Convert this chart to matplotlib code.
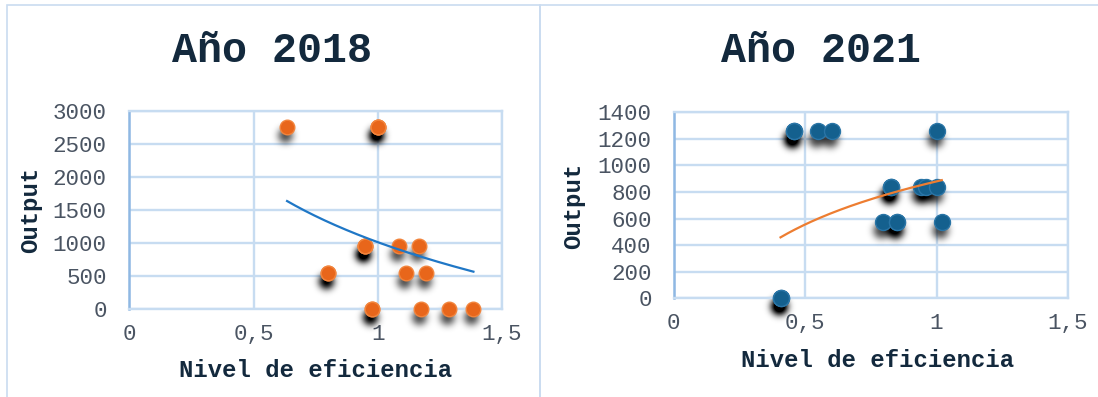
import numpy as np
import matplotlib
matplotlib.use("Agg")
import matplotlib.pyplot as plt
from matplotlib.patches import Rectangle

# ---- data -----------------------------------------------------------------
eff_2018 = [0.635, 1.0, 1.0, 1.0, 0.95, 0.95, 0.95, 1.086, 1.164,
            0.798, 0.798, 1.115, 1.195, 0.976, 0.976, 1.175, 1.286, 1.385]
out_2018 = [2750, 2750, 2750, 2750, 950, 950, 950, 950, 950,
            540, 540, 540, 540, 0, 0, 0, 0, 0]

eff_2021 = [0.46, 0.46, 0.46, 0.548, 0.601, 1.0,
            0.827, 0.827, 0.827, 0.94, 0.96, 1.001,
            0.797, 0.85, 0.85, 1.02, 0.407, 0.407, 0.407]
out_2021 = [1260, 1260, 1260, 1260, 1260, 1260,
            835, 835, 835, 835, 835, 835,
            572, 572, 572, 572, 0, 0, 0]

# logarithmic trend lines: y = a + b * ln(x)
trend_2018 = (1011, -1370)
trend_2021 = (880, 468.6)

titles = ["Año 2018", "Año 2021"]
x_label = "Nivel de eficiencia"
y_label = "Output"

# ---- styling --------------------------------------------------------------
MONO = ["Liberation Mono", "DejaVu Sans Mono"]
NAVY = "#13293d"
TICK = "#4a5462"
GRID = "#c7dcf1"
SPINE = "#8fb8e3"
ORANGE, ORANGE_EDGE = "#e8661b", "#f2843c"
BLUE, BLUE_EDGE = "#14608e", "#2a75a6"


class DropShadow:
    """agg filter: blurred black copy of the artist, shifted in pixels."""

    def __init__(self, sigma, dx, dy, strength=1.0):
        self.sigma, self.dx, self.dy, self.strength = sigma, dx, dy, strength

    def __call__(self, im, dpi):
        pad = int(3 * self.sigma) + max(abs(self.dx), abs(self.dy)) + 2
        a = np.pad(im[..., 3], pad)
        a = np.roll(a, self.dx, axis=1)
        a = np.roll(a, self.dy, axis=0)
        r = int(3 * self.sigma) + 1
        k = np.exp(-0.5 * (np.arange(-r, r + 1) / self.sigma) ** 2)
        k /= k.sum()
        a = np.apply_along_axis(lambda v: np.convolve(v, k, mode="same"), 0, a)
        a = np.apply_along_axis(lambda v: np.convolve(v, k, mode="same"), 1, a)
        out = np.zeros(a.shape + (4,), dtype=float)
        out[..., 3] = np.clip(a * self.strength, 0, 1)
        return out, -pad, -pad


W, H, DPI = 1098, 397, 100
fig = plt.figure(figsize=(W / DPI, H / DPI), dpi=DPI)
fig.patch.set_facecolor("white")


def px_rect(x0, y0, x1, y1):
    return [x0 / W, 1 - y1 / H, (x1 - x0) / W, (y1 - y0) / H]


# panel frames
for x0, x1 in [(7, 540), (540, 1110)]:
    fig.add_artist(Rectangle((x0 / W, -0.05), (x1 - x0) / W, 1 - 5 / H + 0.05,
                             transform=fig.transFigure, fill=False,
                             edgecolor="#cadcf0", linewidth=1.2))

panels = [
    dict(rect=px_rect(129.3, 110.7, 502.0, 309.0), eff=eff_2018, out=out_2018,
         trend=trend_2018, ymax=3000, ystep=500, color=ORANGE, edge=ORANGE_EDGE,
         tcolor="#1f77c6", msize=10.5, title_xy=(272, 61.7),
         xlab=(0.5, -0.311), ylab=(-0.266, 0.5), ypad=16.3),
    dict(rect=px_rect(673.5, 112.3, 1068.0, 298.3), eff=eff_2021, out=out_2021,
         trend=trend_2021, ymax=1400, ystep=200, color=BLUE, edge=BLUE_EDGE,
         tcolor="#ed7d31", msize=11.5, title_xy=(821, 61.7),
         xlab=(0.5176, -0.332), ylab=(-0.252, 0.498), ypad=15.6),
]

for p, title in zip(panels, titles):
    ax = fig.add_axes(p["rect"])
    ax.set_xlim(0, 1.5)
    ax.set_ylim(0, p["ymax"])
    ax.set_xticks([0, 0.5, 1, 1.5])
    ax.set_xticklabels(["0", "0,5", "1", "1,5"])
    yt = np.arange(0, p["ymax"] + 1, p["ystep"])
    ax.set_yticks(yt)
    ax.set_yticklabels([str(int(v)) for v in yt])
    ax.grid(True, color=GRID, linewidth=1.7, zorder=0)
    ax.set_axisbelow(True)
    for side in ["top", "right", "bottom"]:
        ax.spines[side].set_color(GRID)
        ax.spines[side].set_linewidth(1.7)
    ax.spines["left"].set_color(SPINE)
    ax.spines["left"].set_linewidth(1.8)
    ax.tick_params(axis="both", length=0, labelsize=16.2, labelcolor=TICK)
    ax.tick_params(axis="x", pad=10.8)
    ax.tick_params(axis="y", pad=p["ypad"])
    for lab in ax.get_xticklabels() + ax.get_yticklabels():
        lab.set_family(MONO)

    ax.set_xlabel(x_label, family=MONO, fontsize=17.2, fontweight="bold",
                  color=NAVY, va="center")
    ax.xaxis.set_label_coords(*p["xlab"])
    ax.set_ylabel(y_label, family=MONO, fontsize=17.2, fontweight="bold",
                  color=NAVY, va="center")
    ax.yaxis.set_label_coords(*p["ylab"])

    # soft shadows under markers (stacked points give darker shadows)
    sh = ax.scatter(p["eff"], p["out"], s=p["msize"] ** 2, color="black",
                    alpha=0.42, linewidths=0, zorder=2, clip_on=False)
    sh.set_agg_filter(DropShadow(sigma=2.6, dx=-1, dy=4, strength=1.35))
    sh.set_rasterized(True)

    ax.scatter(p["eff"], p["out"], s=p["msize"] ** 2, color=p["color"],
               edgecolors=p["edge"], linewidths=1.0, zorder=3, clip_on=False)

    a, b = p["trend"]
    xs = np.linspace(min(p["eff"]), max(p["eff"]), 200)
    ax.plot(xs, a + b * np.log(xs), color=p["tcolor"], linewidth=1.6, zorder=4)

    tx, ty = p["title_xy"]
    fig.text(tx / W, 1 - ty / H, title, family=MONO, fontsize=30,
             fontweight="bold", color=NAVY, ha="center", va="baseline")

fig.savefig("out.png", dpi=DPI, facecolor="white")
